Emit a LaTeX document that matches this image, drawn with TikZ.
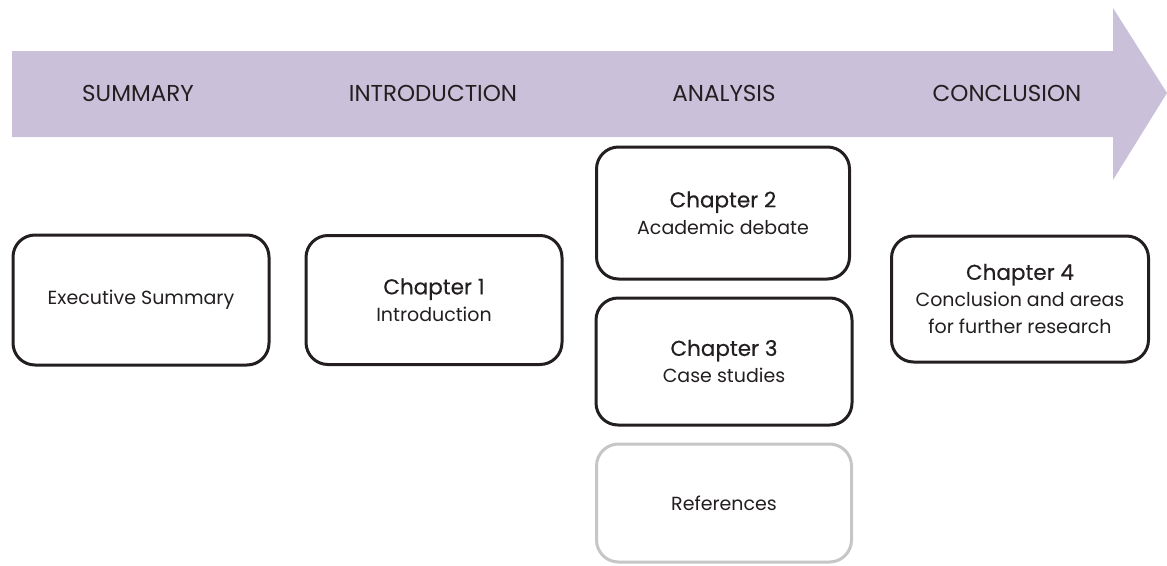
\documentclass[tikz,border=0pt]{standalone}
\usepackage{fontspec}
\setmainfont{Poppins}
\newfontfamily\chapfontbase{Poppins}[FakeBold=0.4]
\newcommand{\chapline}[1]{{\chapfontbase\fontsize{21.5}{27}\selectfont #1}}
\definecolor{arrowfill}{HTML}{CBC0DA}
\definecolor{ink}{HTML}{231F20}
\definecolor{refgray}{HTML}{C6C6C6}
\tikzset{
  chbox/.style={draw=ink, line width=3pt, rounded corners=22pt, fill=white,
    align=center, text=ink, inner sep=0pt,
    font=\fontsize{19}{27}\selectfont},
  refbox/.style={chbox, draw=refgray},
  header/.style={text=ink, font=\fontsize{23}{24}\selectfont, inner sep=0pt, anchor=base}
}
\begin{document}
\begin{tikzpicture}[x=1pt,y=-1pt]
\useasboundingbox (0,0) rectangle (1167,565);
\fill[arrowfill] (12,51) -- (1113,51) -- (1113,8) -- (1167,93) -- (1113,180) -- (1113,137) -- (12,137) -- cycle;
\node[header] (hsum) at (138,101) {SUMMARY};
\node[header] (hintro) at (433,101) {INTRODUCTION};
\node[header] (hana) at (724,101) {ANALYSIS};
\node[header] (hcon) at (1007,101) {CONCLUSION};
\node[chbox, minimum width=256pt, minimum height=130pt] (exec) at (141,300) {Executive Summary};
\node[chbox, minimum width=256pt, minimum height=129pt] (ch1) at (434,300) {\chapline{Chapter 1}\\Introduction};
\node[chbox, minimum width=253pt, minimum height=132pt] (ch2) at (723,213) {\chapline{Chapter 2}\\Academic debate};
\node[chbox, minimum width=256pt, minimum height=127pt] (ch3) at (724,361.5) {\chapline{Chapter 3}\\Case studies};
\node[refbox, minimum width=255pt, minimum height=118pt] (refs) at (724,503) {References};
\node[chbox, minimum width=257pt, minimum height=126pt] (ch4) at (1020,299) {\chapline{Chapter 4}\\Conclusion and areas\\for further research};
\end{tikzpicture}
\end{document}
